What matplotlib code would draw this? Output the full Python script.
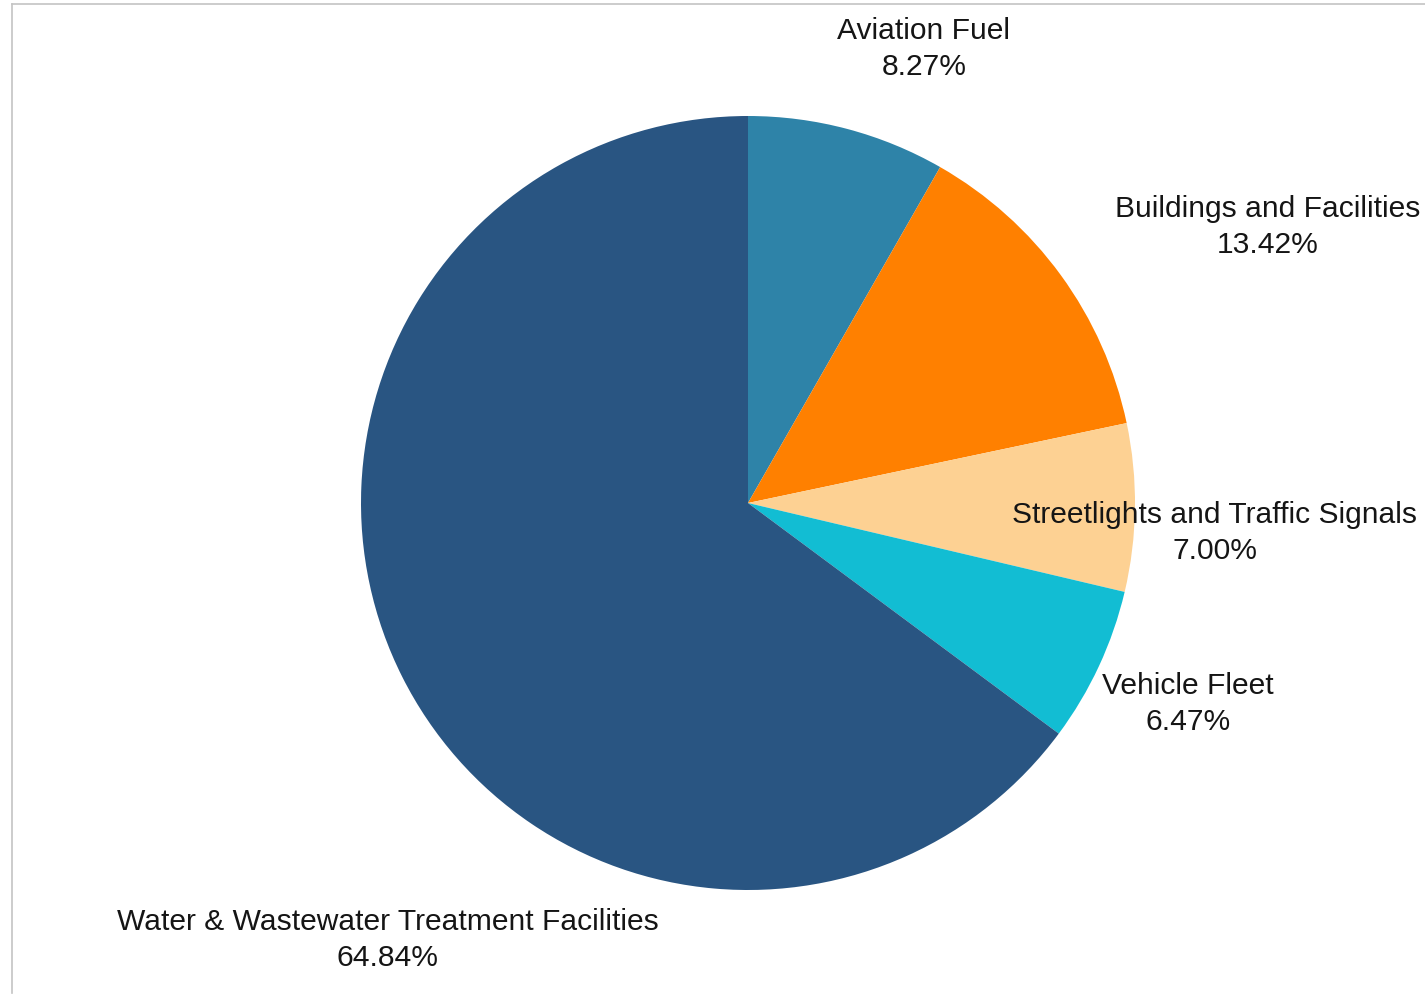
import matplotlib.pyplot as plt
from matplotlib.lines import Line2D

categories = ['Aviation Fuel', 'Buildings and Facilities', 'Streetlights and Traffic Signals',
              'Vehicle Fleet', 'Water & Wastewater Treatment Facilities']
shares = [8.27, 13.42, 7.00, 6.47, 64.84]
colors = ['#2E83A8', '#FF8000', '#FDD193', '#12BDD3', '#295582']

# label anchor points in pixel space (x, y from top)
label_pos = [(924, 49), (1268, 227), (1215, 533), (1188, 704), (388, 940)]

W, H = 1425, 996
fig = plt.figure(figsize=(W / 100, H / 100), dpi=100)
ax = fig.add_axes([0, 0, 1, 1])

ax.pie(shares, colors=colors, startangle=90, counterclock=False,
       center=(748, H - 503), radius=387, frame=True,
       wedgeprops=dict(linewidth=0))
ax.set_xlim(0, W)
ax.set_ylim(0, H)
ax.set_aspect('equal')
ax.axis('off')

for name, val, (x, y) in zip(categories, shares, label_pos):
    ax.text(x, H - y, f'{name}\n{val:.2f}%', ha='center', va='center',
            fontsize=21.6, family='Liberation Sans', color='#151515', linespacing=1.32)

# thin frame of the original screenshot
fig.add_artist(Line2D([12 / W, 1], [1 - 4 / H, 1 - 4 / H], color='#c4c4c4', lw=1.2))
fig.add_artist(Line2D([12 / W, 12 / W], [1 - 4 / H, 1 - 993 / H], color='#c4c4c4', lw=1.2))

fig.savefig('out.png', dpi=100)
